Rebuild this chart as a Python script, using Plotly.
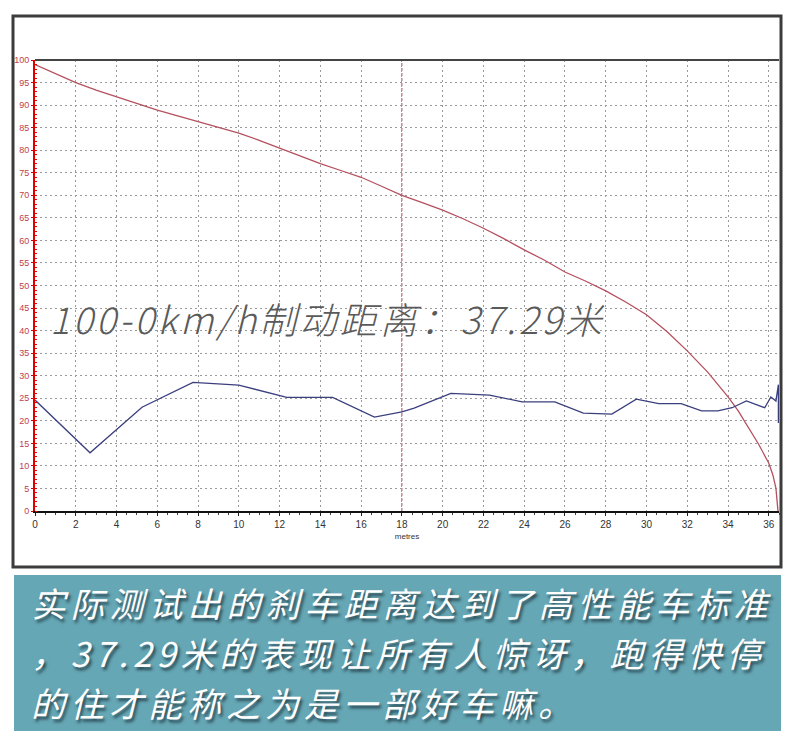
import plotly.graph_objects as go

# ---- data ----
speed_dist = [0, 1, 2, 3, 4, 5, 6, 7, 8, 9, 10, 11, 12, 13, 14, 15, 16, 17, 18,
              19, 20, 21, 22, 23, 24, 25, 26, 27, 28, 29, 30, 31, 32, 33, 34,
              34.5, 35, 35.5, 36, 36.2, 36.35, 36.45]
speed_kmh = [99, 97, 95, 93.3, 91.8, 90.3, 88.9, 87.6, 86.3, 85.1, 83.8, 82.2, 80.5,
             78.8, 77, 75.5, 74, 72, 70, 68.4, 66.7, 64.8, 62.7, 60.4, 57.9, 55.6,
             53, 51, 48.8, 46.3, 43.5, 39.8, 35.5, 30.8, 25.3, 22.2, 18.6, 14.8,
             10.6, 8, 5, 0]

decel_dist = [0, 2.7, 5.25, 7.75, 10.0, 12.35, 14.6, 16.65, 18.0, 18.6, 20.4, 22.3,
              23.9, 25.5, 26.9, 28.3, 29.5, 30.6, 31.7, 32.7, 33.5, 34.2, 34.9,
              35.8, 36.1, 36.35, 36.47, 36.47]
decel_val = [24.6, 12.9, 23.0, 28.5, 27.9, 25.2, 25.2, 20.8, 22.0, 22.8, 26.1, 25.7,
             24.2, 24.2, 21.7, 21.5, 24.8, 23.8, 23.8, 22.2, 22.2, 22.9, 24.4,
             22.9, 25.3, 24.4, 28.0, 19.5]

x_ticks = list(range(0, 37, 2))
y_ticks = list(range(0, 101, 5))

overlay_text = "100-0km/h制动距离：37.29米"
caption_lines = ["实际测试出的刹车距离达到了高性能车标准",
                 "，37.29米的表现让所有人惊讶，跑得快停",
                 "的住才能称之为是一部好车嘛。"]
x_title = "metres"
marker_x = 18

# ---- figure ----
W, H = 800, 750
ML, MR, MT, MB = 35, 21, 60, 239
PW, PH = W - ML - MR, H - MT - MB
OVERLAY_LS, CAPTION_LS = 3.2, 5.0   # letter spacing (px)


def px_x(p):
    return (p - ML) / PW


def px_y(p):
    return (H - MB - p) / PH


fig = go.Figure()
fig.add_trace(go.Scatter(x=speed_dist, y=speed_kmh, mode="lines",
                         line=dict(color="#b5505e", width=1.3),
                         hoverinfo="skip", showlegend=False))
fig.add_trace(go.Scatter(x=decel_dist, y=decel_val, mode="lines",
                         line=dict(color="#3b3f7e", width=1.3),
                         hoverinfo="skip", showlegend=False))

shapes = []
# outer picture frame
shapes.append(dict(type="rect", xref="paper", yref="paper",
                   x0=px_x(13), x1=px_x(781), y0=px_y(567), y1=px_y(16),
                   line=dict(color="#3c3c3c", width=3), fillcolor="rgba(0,0,0,0)",
                   layer="above"))
# plot top border
shapes.append(dict(type="line", xref="paper", yref="paper", x0=0, x1=1, y0=1, y1=1,
                   line=dict(color="#444444", width=2)))
# marker line at 18 m
shapes.append(dict(type="line", xref="x", yref="paper", x0=marker_x, x1=marker_x,
                   y0=0, y1=1, line=dict(color="#a0505a", width=1, dash="3px,2px"),
                   layer="below"))
# caption box
shapes.append(dict(type="rect", xref="paper", yref="paper",
                   x0=px_x(14), x1=px_x(781), y0=px_y(731), y1=px_y(575),
                   line=dict(width=0), fillcolor="#66a7b5", layer="below"))

annotations = [
    dict(text=overlay_text, xref="paper", yref="paper", x=px_x(48), y=px_y(318),
         xanchor="left", yanchor="middle", showarrow=False,
         xshift=len(overlay_text) * OVERLAY_LS / 2,
         font=dict(family="Noto Sans CJK SC", size=37, color="#5a5a5a", style="italic",
                   weight=300)),
]
cap_y = [602, 652, 702]
for line, yy in zip(caption_lines, cap_y):
    annotations.append(dict(text=line, xref="paper", yref="paper", x=px_x(29), y=px_y(yy),
                            xanchor="left", yanchor="middle", showarrow=False,
                            xshift=len(line) * CAPTION_LS / 2,
                            font=dict(family="Noto Sans CJK SC", size=34, color="#ffffff",
                                      style="italic",
                                      shadow="2px 3px 3px rgba(20,40,50,0.75)")))

fig.update_layout(
    width=W, height=H,
    margin=dict(l=ML, r=MR, t=MT, b=MB),
    paper_bgcolor="#ffffff", plot_bgcolor="#ffffff",
    shapes=shapes, annotations=annotations,
    font=dict(family="Liberation Sans"),
)
fig.update_xaxes(range=[0, 36.5], tickvals=x_ticks, ticktext=[str(v) for v in x_ticks],
                 showgrid=True, gridcolor="#9a9a9a", griddash="2px,3px", gridwidth=1,
                 showline=True, linecolor="#111111", linewidth=2,
                 ticks="outside", ticklen=3, tickcolor="#222222",
                 minor=dict(dtick=0.5, ticks="outside", ticklen=2, tickcolor="#444444",
                            showgrid=False),
                 tickfont=dict(size=10, color="#333333", family="Liberation Sans"),
                 title=dict(text=x_title, font=dict(size=8, color="#333333"), standoff=4),
                 zeroline=False, fixedrange=True)
fig.update_yaxes(range=[0, 100], tickvals=y_ticks, ticktext=[str(v) for v in y_ticks],
                 showgrid=True, gridcolor="#9a9a9a", griddash="2px,3px", gridwidth=1,
                 showline=True, linecolor="#e00000", linewidth=2,
                 ticks="outside", ticklen=2, tickcolor="#e00000",
                 minor=dict(dtick=1, ticks="inside", ticklen=2, tickcolor="#e00000",
                            showgrid=False),
                 tickfont=dict(size=9, color="#c0404e", family="Liberation Sans"),
                 zeroline=False, fixedrange=True)

post_js = """
document.body.style.margin='0';
(function(){
  var gd = document.getElementById('{plot_id}');
  function spacing(){
    var t = gd.querySelectorAll('.annotation-text');
    for (var i = 0; i < t.length; i++) {
      t[i].style.letterSpacing = (i === 0) ? '%spx' : '%spx';
    }
  }
  spacing();
  if (gd.on) { gd.on('plotly_afterplot', spacing); }
})();
""" % (OVERLAY_LS, CAPTION_LS)
fig.write_html("out.html", config={"displayModeBar": False}, post_script=post_js)
